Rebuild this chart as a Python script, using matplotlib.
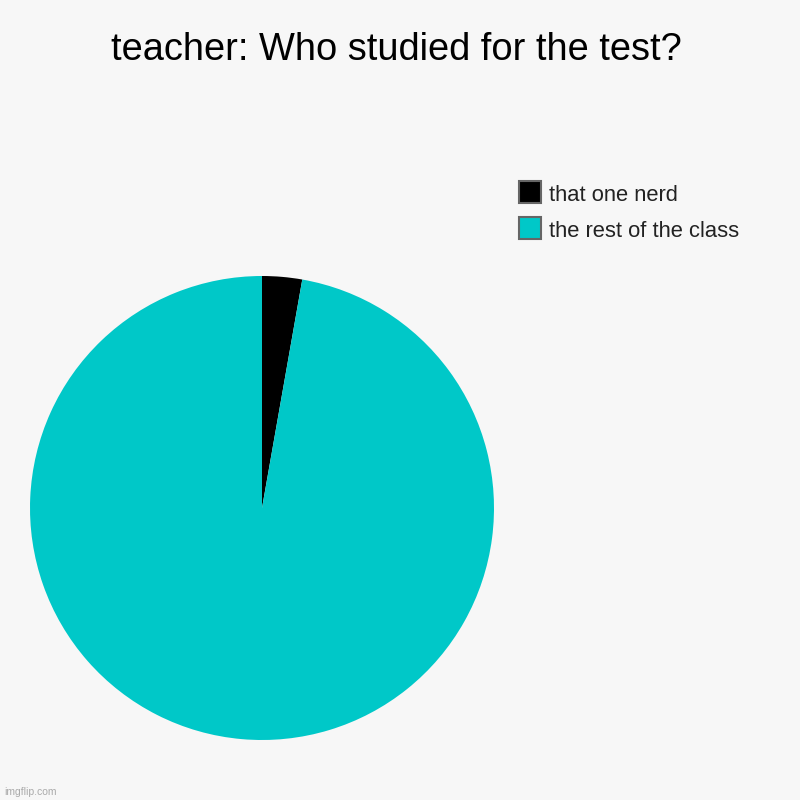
import matplotlib
matplotlib.use("Agg")
import matplotlib.pyplot as plt
from matplotlib.patches import Rectangle

title = "teacher: Who studied for the test?"
labels = ["that one nerd", "the rest of the class"]
values = [1, 35]
colors = ["#000000", "#00c8c8"]

W = H = 800
bg = "#f7f7f7"
fig = plt.figure(figsize=(8, 8), dpi=100, facecolor=bg)

# pie axes: center (262,508), radius 232 px
cx, cy, r = 262, 508, 232
ax = fig.add_axes([(cx - r) / W, (H - cy - r) / H, 2 * r / W, 2 * r / H])
ax.set_facecolor(bg)
ax.pie(values, colors=colors, startangle=90, counterclock=False, radius=1,
       wedgeprops=dict(linewidth=0))
ax.set_xlim(-1, 1)
ax.set_ylim(-1, 1)
ax.set_aspect("equal")
ax.axis("off")

font = "Liberation Sans"
fig.text(396 / W, 1 - 60 / H, title, ha="center", va="baseline",
         fontsize=27.4, family=font, color="#000000")

# legend
sq_x, sq = 519, 22
rows = [(181, 201), (217, 237)]
for (top, base), lab, col in zip(rows, labels, colors):
    fig.patches.append(Rectangle((sq_x / W, 1 - (top + sq) / H), sq / W, sq / H,
                                 transform=fig.transFigure, facecolor=col,
                                 edgecolor="#666666", linewidth=1.5))
    fig.text(549 / W, 1 - base / H, lab, ha="left", va="baseline",
             fontsize=15.8, family=font, color="#222222")

fig.text(4 / W, 1 - 795 / H, "imgflip.com", ha="left", va="baseline",
         fontsize=7.5, family=font, color="#aaaaaa")

fig.savefig("out.png", dpi=100, facecolor=bg)
